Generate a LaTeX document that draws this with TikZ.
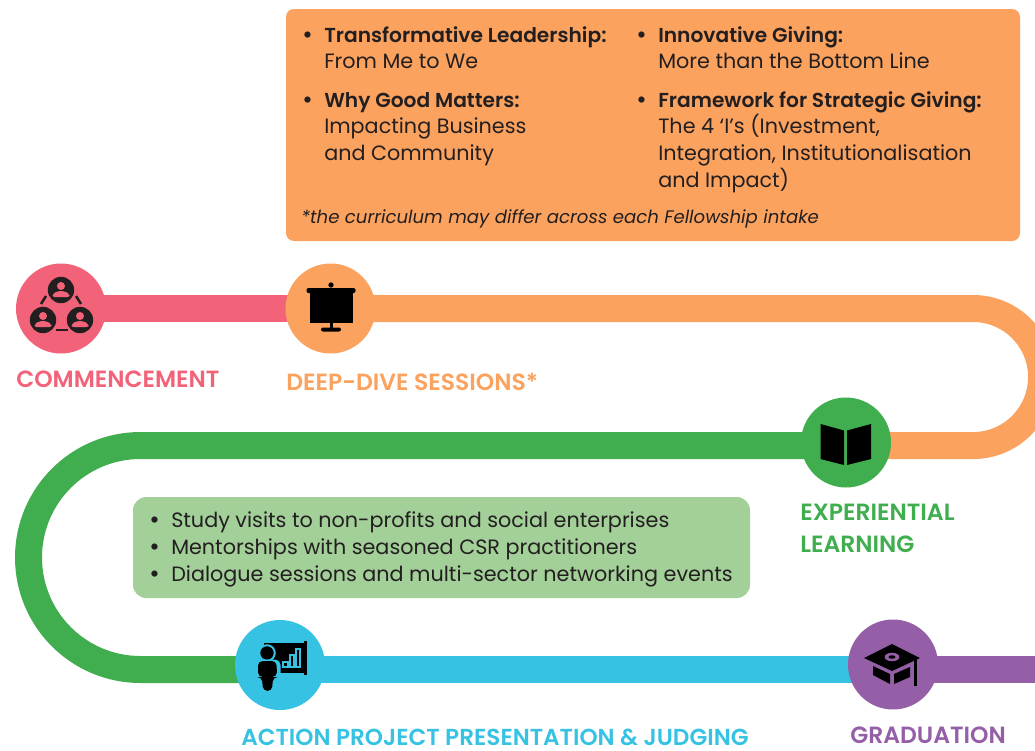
\documentclass[tikz,border=0pt]{standalone}
\usepackage{fontspec}
\setmainfont{Poppins}
\newfontfamily\lblfont{Poppins SemiBold}
\definecolor{cpink}{HTML}{F26379}
\definecolor{corange}{HTML}{FBA25E}
\definecolor{cgreen}{HTML}{40AE4F}
\definecolor{cblue}{HTML}{35C2E3}
\definecolor{cpurple}{HTML}{955FA7}
\definecolor{lgreen}{HTML}{A3CF98}
\definecolor{ink}{HTML}{231F20}
\tikzset{
  stop/.style={circle,minimum size=67.5pt,inner sep=0pt,fill=#1},
  track/.style={line width=20.25pt,draw=#1},
  body/.style={anchor=base west,inner sep=0pt,text=ink,font=\fontsize{15.55}{18}\selectfont},
  head/.style={anchor=base west,inner sep=0pt,text=ink,font=\fontsize{15.15}{18}\lblfont},
  dot/.style={anchor=base west,inner sep=0pt,text=ink,font=\fontsize{19}{20}\selectfont},
  lbl/.style={anchor=base west,inner sep=0pt,text=#1,font=\fontsize{17.6}{20}\lblfont},
}
\begin{document}
\begin{tikzpicture}[x=0.75pt,y=-0.75pt]
\path[use as bounding box,clip] (0,0) rectangle (1035,750);
% stops
\coordinate (a) at (61,308.5);
\coordinate (b) at (330,308.5);
\coordinate (b1) at (973,308.5);
\coordinate (c) at (846,445.5);
\coordinate (c1) at (140.5,445.5);
\coordinate (d) at (280,669.5);
\coordinate (e) at (893,669.5);
\coordinate (f) at (1040,669.5);
% tracks
\draw[track=cpink] (a) -- (b);
\draw[track=corange] (b) -- (b1) arc[start angle=90,end angle=-90,radius=51.4pt] -- (c);
\draw[track=cgreen] (c) -- (c1) arc[start angle=90,end angle=270,radius=84pt] -- (d);
\draw[track=cblue] (d) -- (e);
\draw[track=cpurple] (e) -- (f);
% circles
\node[stop=cpink] (n1) at (61,308.5) {};
\node[stop=corange] (n2) at (330.5,308.5) {};
\node[stop=cgreen] (n3) at (846,442.5) {};
\node[stop=cblue] (n4) at (280,665) {};
\node[stop=cpurple] (n5) at (893,664.5) {};
% people icon
\foreach \x/\y in {61/290,43/320,80/320}{
  \fill[ink] (\x,\y) circle[radius=9.9pt];
  \fill[cpink] (\x,\y-4) circle[radius=3pt];
  \fill[cpink,rounded corners=1.5pt] (\x-8.5,\y+7) -- (\x-8.5,\y+4) -- (\x-3,\y+1) -- (\x+3,\y+1) -- (\x+8.5,\y+4) -- (\x+8.5,\y+7) -- cycle;
}
\draw[ink,line width=1.9pt] (46,296) -- (41,304);
\draw[ink,line width=1.9pt] (76,296) -- (81,304);
\draw[ink,line width=1.9pt] (56,330) -- (68,330);
% screen icon
\fill (331,285) circle[radius=2pt];
\fill[rounded corners=1.5pt] (306.5,288) rectangle (355.5,293);
\fill (309.5,293) rectangle (352.5,323);
\fill (329.5,323) rectangle (332.5,329);
\fill[rounded corners=1.5pt] (321,327.5) rectangle (341,331.5);
% book icon
\fill (820.5,424) -- (844,430.5) -- (844,465) -- (820.5,459) -- cycle;
\fill (847,430.5) -- (871,424) -- (871,459) -- (847,465) -- cycle;
% presenter icon
\fill (264,642.5) rectangle (306,673);
\fill (304,640.5) rectangle (307,675);
\fill[cblue] (267,653) circle[radius=6.6pt];
\fill (267,653) circle[radius=5pt];
\fill[cblue,rounded corners=4pt] (255,659.5) rectangle (280.5,692);
\fill[rounded corners=3.5pt] (258,661) -- (276.5,661) -- (277,677) -- (273,677) -- (272,691) -- (263,691) -- (262,677) -- (258,677) -- cycle;
\draw[cblue,line width=1pt] (283,662) rectangle (288,667);
\draw[cblue,line width=1pt] (290,655) rectangle (294,667);
\draw[cblue,line width=1pt] (296,649) rectangle (300,667);
% cap icon
\fill (864,658) -- (892,644) -- (920,658) -- (892,671) -- cycle;
\fill[cpurple] (892,657) ellipse[x radius=5.5pt,y radius=3.2pt];
\fill (892,657) ellipse[x radius=2.7pt,y radius=1.3pt];
\fill (873,666) -- (890,674) -- (890,684) -- (873,675) -- cycle;
\fill (894,674) -- (910,667) -- (910,677) -- (894,684) -- cycle;
\fill (914,658) rectangle (917,686);
% labels
\node[lbl=cpink] (t1) at (16,387) {COMMENCEMENT};
\node[lbl=corange] (t2) at (286,390) {DEEP-DIVE SESSIONS*};
\node[lbl=cgreen] (t3) at (800,520) {EXPERIENTIAL};
\node[lbl=cgreen] (t3b) at (800,552) {LEARNING};
\node[lbl=cblue,font=\fontsize{17.35}{20}\lblfont] (t4) at (241,745) {ACTION PROJECT PRESENTATION \& JUDGING};
\node[lbl=cpurple] (t5) at (850,743) {GRADUATION};
% orange box
\fill[corange,rounded corners=6pt] (286,9) rectangle (1020,241);
\node[dot] (o1) at (302,43) {•};
\node[head] (o2) at (324,42) {Transformative Leadership:};
\node[body] (o3) at (324,68) {From Me to We};
\node[dot] (o4) at (302,108) {•};
\node[head] (o5) at (324,107) {Why Good Matters:};
\node[body] (o6) at (324,133) {Impacting Business};
\node[body] (o7) at (324,160) {and Community};
\node[dot] (o8) at (636,43) {•};
\node[head] (o9) at (658,42) {Innovative Giving:};
\node[body] (o10) at (658,68) {More than the Bottom Line};
\node[dot] (o11) at (636,108) {•};
\node[head] (o12) at (658,107) {Framework for Strategic Giving:};
\node[body] (o13) at (658,133) {The 4 ‘I’s (Investment,};
\node[body] (o14) at (658,160) {Integration, Institutionalisation};
\node[body] (o15) at (658,187) {and Impact)};
\node[body,font=\fontsize{13.6}{15}\selectfont\itshape] (o16) at (301,223) {*the curriculum may differ across each Fellowship intake};
% green box
\fill[lgreen,rounded corners=10pt] (133,497) rectangle (750,598);
\node[dot] (g1) at (149,528) {•};
\node[body] (g2) at (171,527) {Study visits to non-profits and social enterprises};
\node[dot] (g3) at (149,555) {•};
\node[body] (g4) at (171,554) {Mentorships with seasoned CSR practitioners};
\node[dot] (g5) at (149,582) {•};
\node[body] (g6) at (171,581) {Dialogue sessions and multi-sector networking events};
\end{tikzpicture}
\end{document}
